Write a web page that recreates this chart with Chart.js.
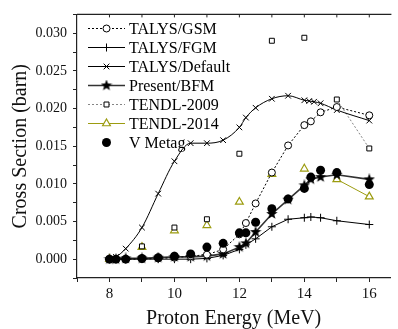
<!DOCTYPE html>
<html>
<head>
<meta charset="utf-8">
<script src="https://cdn.jsdelivr.net/npm/chart.js@4"></script>
<style>
  html, body { margin: 0; padding: 0; background: #fff; }
  canvas { display: block; }
</style>
</head>
<body>
<canvas id="xsChart" width="398" height="329"></canvas>
<script>
// energies (MeV)
const energyTalys = [8, 8.2, 8.5, 9, 9.5, 10, 10.5, 11, 11.5, 12, 12.2, 12.5, 13, 13.5, 14, 14.2, 14.5, 15, 16];
const energyDefault = [8, 8.2, 8.5, 9, 9.5, 10, 10.5, 11, 11.5, 12, 12.2, 12.5, 13, 13.5, 14, 14.15, 14.3, 14.5, 15, 16];
const energyTendl = [8, 9, 10, 11, 12, 13, 14, 15, 16];

// cross sections (barn)
const talysGsm = [0, 0, 0, 0, 0.0001, 0.0002, 0.0004, 0.0006, 0.0013, 0.0033, 0.0048, 0.0074, 0.0115, 0.0151, 0.0178, 0.0183, 0.0195, 0.0202, 0.0191];
const talysFgm = [0, 0, 0, 0, 0, 0, 0, 0.0001, 0.0005, 0.0013, 0.0019, 0.0027, 0.0043, 0.0053, 0.0055, 0.0056, 0.0055, 0.0051, 0.0046];
const talysDefault = [0, 0.0003, 0.0014, 0.0042, 0.0087, 0.0130, 0.0154, 0.0154, 0.0158, 0.0175, 0.0188, 0.0201, 0.0213, 0.0217, 0.0211, 0.0210, 0.0209, 0.0207, 0.0198, 0.0184];
const presentBfm = [0, 0, 0.0001, 0.0001, 0.0002, 0.0003, 0.0003, 0.0004, 0.0007, 0.0016, 0.0021, 0.0036, 0.0060, 0.0079, 0.0098, 0.0106, 0.0109, 0.0112, 0.0106];
const tendl2009 = [0, 0.0017, 0.0042, 0.0053, 0.0140, 0.0290, 0.0294, 0.0212, 0.0147];
const tendl2014 = [0, 0.0016, 0.0038, 0.0045, 0.0076, 0.0113, 0.0120, 0.0106, 0.0083];
const vMetag = [0, 0, 0, 0.0001, 0.0002, 0.0004, 0.0007, 0.0016, 0.0021, 0.0035, 0.0035, 0.0049, 0.0067, 0.0080, 0.0094, 0.0109, 0.0118, 0.0115, 0.0099];

const OLIVE = '#9c9c10';
const FONT = '"Liberation Serif", "Times New Roman", serif';

function pts(xs, ys) {
  return xs.map((x, i) => ({ x: x, y: ys[i] }));
}

// filled five point star for the BFM markers
function makeStar(size, color) {
  const c = document.createElement('canvas');
  c.width = size; c.height = size;
  const g = c.getContext('2d');
  const cx = size / 2, cy = size / 2, ro = size / 2, ri = ro * 0.42;
  g.beginPath();
  for (let i = 0; i < 10; i++) {
    const r = i % 2 ? ri : ro;
    const a = -Math.PI / 2 + i * Math.PI / 5;
    g.lineTo(cx + r * Math.cos(a), cy + r * Math.sin(a));
  }
  g.closePath();
  g.fillStyle = color;
  g.fill();
  return c;
}
const starImg = makeStar(12, '#000');

// only the last segment of the TENDL curves is joined
function lastSegment(color) {
  return ctx => ctx.p0.parsed.x >= 15 ? color : 'rgba(0,0,0,0)';
}

const datasets = [
  {
    label: 'TALYS/GSM', data: pts(energyTalys, talysGsm), showLine: true,
    borderColor: '#000', borderWidth: 1, borderDash: [2, 2],
    pointStyle: 'circle', pointRadius: 3.5, pointBackgroundColor: '#fff', pointBorderColor: '#000', pointBorderWidth: 1
  },
  {
    label: 'TALYS/FGM', data: pts(energyTalys, talysFgm), showLine: true,
    borderColor: '#000', borderWidth: 1,
    pointStyle: 'cross', pointRadius: 4, pointBorderColor: '#000', pointBorderWidth: 1
  },
  {
    label: 'TALYS/Default', data: pts(energyDefault, talysDefault), showLine: true,
    borderColor: '#000', borderWidth: 1, cubicInterpolationMode: 'monotone',
    pointStyle: 'crossRot', pointRadius: 4, pointBorderColor: '#000', pointBorderWidth: 1
  },
  {
    label: 'Present/BFM', data: pts(energyTalys, presentBfm), showLine: true,
    borderColor: '#333', borderWidth: 1.6,
    pointStyle: starImg, pointRadius: 6
  },
  {
    label: 'TENDL-2009', data: pts(energyTendl, tendl2009), showLine: true,
    borderColor: '#666', borderWidth: 0.8, borderDash: [2, 2],
    segment: { borderColor: lastSegment('#666') },
    pointStyle: 'rect', pointRadius: 3.5, pointBackgroundColor: '#fff', pointBorderColor: '#000', pointBorderWidth: 1
  },
  {
    label: 'TENDL-2014', data: pts(energyTendl, tendl2014), showLine: true,
    borderColor: OLIVE, borderWidth: 1,
    segment: { borderColor: lastSegment(OLIVE) },
    pointStyle: 'triangle', pointRadius: 4.5, pointBackgroundColor: '#fff', pointBorderColor: OLIVE, pointBorderWidth: 1.2
  },
  {
    label: 'V Metag', data: pts(energyTalys, vMetag), showLine: false, order: -1,
    pointStyle: 'circle', pointRadius: 4.5, pointBackgroundColor: '#000', pointBorderColor: '#000', pointBorderWidth: 0
  }
];

// legend drawn the way the original shows it: line sample with the marker on it
const sampleLegend = {
  id: 'sampleLegend',
  afterDraw(chart) {
    const ctx = chart.ctx;
    const x0 = 88, x1 = 125, xm = 106.5, xt = 129;
    let y = 28.5;
    ctx.save();
    ctx.font = '16px ' + FONT;
    ctx.textBaseline = 'middle';
    chart.data.datasets.forEach(ds => {
      if (ds.showLine) {
        ctx.beginPath();
        ctx.setLineDash(ds.borderDash || []);
        ctx.strokeStyle = ds.borderColor;
        ctx.lineWidth = ds.borderWidth;
        ctx.moveTo(x0, y);
        ctx.lineTo(x1, y);
        ctx.stroke();
        ctx.setLineDash([]);
      }
      ctx.fillStyle = ds.pointBackgroundColor || '#000';
      ctx.strokeStyle = ds.pointBorderColor || '#000';
      ctx.lineWidth = ds.pointBorderWidth || 1;
      Chart.helpers.drawPoint(ctx, {
        pointStyle: ds.pointStyle, radius: ds.pointStyle === starImg ? 6 : ds.pointRadius,
        rotation: 0, borderWidth: ds.pointBorderWidth || 0
      }, xm, y);
      ctx.fillStyle = '#000';
      ctx.fillText(ds.label, xt, y + 1);
      y += 19;
    });
    ctx.restore();
  }
};

// top frame line with small inward ticks
const topFrame = {
  id: 'topFrame',
  afterDraw(chart) {
    const { ctx, chartArea } = chart;
    const xs = chart.scales.x;
    ctx.save();
    ctx.strokeStyle = '#222';
    ctx.lineWidth = 1.2;
    ctx.beginPath();
    ctx.moveTo(chartArea.left, chartArea.top);
    ctx.lineTo(chartArea.right + 1, chartArea.top);
    ctx.stroke();
    ctx.lineWidth = 1;
    ctx.beginPath();
    for (let v = 8; v <= 16; v++) {
      const px = xs.getPixelForValue(v);
      ctx.moveTo(px, chartArea.top);
      ctx.lineTo(px, chartArea.top + 3);
    }
    ctx.stroke();
    ctx.restore();
  }
};

new Chart(document.getElementById('xsChart'), {
  type: 'scatter',
  data: { datasets: datasets },
  options: {
    responsive: false,
    animation: false,
    layout: { padding: { top: 13, right: 1, left: 0, bottom: 0 } },
    plugins: {
      legend: { display: false },
      tooltip: { enabled: false }
    },
    scales: {
      x: {
        type: 'linear',
        min: 7, max: 16.65,
        afterFit(scale) { scale.height = 51; },
        border: { display: true, color: '#222', width: 1.2 },
        grid: { drawOnChartArea: false, drawTicks: true, tickLength: 4, color: '#222' },
        ticks: {
          stepSize: 1, includeBounds: false, autoSkip: false, maxRotation: 0,
          padding: 3, color: '#111', font: { family: FONT, size: 15 },
          callback: v => (Math.abs(v % 2) < 1e-9 && v >= 8) ? String(v) : ''
        },
        title: {
          display: true, text: 'Proton Energy (MeV)', color: '#111',
          font: { family: FONT, size: 20, lineHeight: 1 }, padding: { top: 0, bottom: 0 }
        }
      },
      y: {
        type: 'linear',
        min: -0.0025, max: 0.0325,
        afterFit(scale) { scale.width = 77; },
        border: { display: true, color: '#222', width: 1.2 },
        grid: { drawOnChartArea: false, drawTicks: true, tickLength: 4, color: '#222' },
        ticks: {
          stepSize: 0.0025, includeBounds: false, autoSkip: false,
          padding: 6, color: '#111', font: { family: FONT, size: 14 },
          callback: v => {
            const n = Math.round(v * 10000);
            return (n >= 0 && n % 50 === 0) ? (n / 10000).toFixed(3) : '';
          }
        },
        title: {
          display: true, text: 'Cross Section (barn)', color: '#111',
          font: { family: FONT, size: 20, lineHeight: 1 }, padding: { top: 11, bottom: 0 }
        }
      }
    }
  },
  plugins: [sampleLegend, topFrame]
});
</script>
</body>
</html>
